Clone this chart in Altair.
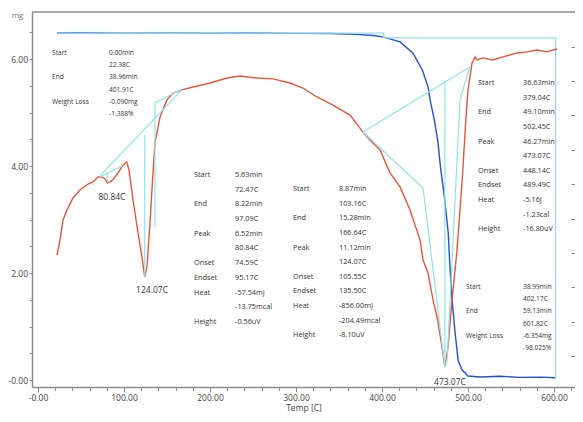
import altair as alt
import pandas as pd

# ---------------- data ----------------
# TG curve (mg) against temperature (C)
tga_temp = [22.0, 50, 100, 150, 200, 250, 300, 340, 370, 390, 402,
            421, 436, 447, 453.5, 456, 461, 465, 468, 473, 477, 479, 481.5,
            485, 488.5, 493, 500, 514, 537, 560, 585, 602]
tga_mg = [6.486, 6.49, 6.484, 6.488, 6.482, 6.486, 6.48, 6.476, 6.46, 6.44, 6.41,
          6.32, 6.11, 5.79, 5.48, 5.23, 4.85, 4.45, 3.98, 3.36, 2.75, 2.11, 1.50,
          0.88, 0.37, 0.19, 0.075, 0.056, 0.07, 0.05, 0.055, 0.042]

# DTA curve (uV) against temperature (C)
dta_temp = [22.1, 25.6, 29.1, 33.7, 40.7, 48.8, 58.1, 64.0, 69.8, 74.4, 78.0, 80.8,
            84.0, 88.0, 93.0, 97.5, 101.2, 103.2, 105.8, 110.5, 116.3, 120.9, 124.1,
            126.7, 130.2, 133.7, 136.0, 141.9, 150.0, 157.0, 167.4, 180.2, 200.0,
            219.8, 234.9, 254.7, 273.3, 293.0, 308.1, 324.4, 343.0, 362.8, 377.9,
            386.0, 397.7, 409.3, 420.9, 432.6, 444.2, 447.7, 453.5, 459.3, 464.0,
            469.8, 473.1, 476.7, 481.4, 487.2, 493.0, 497.7, 500.0, 504.7, 508.1,
            510.5, 517.4, 529.1, 540.7, 557.0, 568.6, 580.2, 591.9, 598.8, 603.5]
dta_uv = [-10.12, -9.24, -8.08, -7.50, -6.80, -6.34, -5.99, -5.87, -5.58, -5.58, -5.70, -5.93,
          -5.85, -5.70, -5.35, -5.00, -4.77, -4.71, -5.17, -6.92, -8.84, -10.23, -11.40,
          -10.81, -8.26, -5.35, -3.60, -2.09, -1.10, -0.70, -0.52, -0.35, -0.12,
          0.17, 0.29, 0.17, 0.12, -0.12, -0.41, -0.93, -1.40, -1.98, -2.97,
          -3.43, -4.01, -5.35, -6.16, -7.50, -9.24, -10.41, -11.16, -12.73, -13.72,
          -15.47, -16.63, -15.47, -12.73, -9.83, -5.93, -2.09, -0.52, 1.05, 1.40,
          1.22, 1.34, 1.22, 1.40, 1.63, 1.69, 1.80, 1.69, 1.80, 1.86]

# peak analysis guide lines (DTA scale)
guide_seg = ["L1", "L1", "P1b", "P1b", "P1v", "P1v", "P2v", "P2v", "P2v2", "P2v2",
             "P2s", "P2s", "P3b", "P3b", "P3on", "P3on", "P3on", "P3v", "P3v",
             "P3end", "P3end", "P3end"]
guide_temp = [72.1, 167.4, 72.1, 97.7, 80.8, 80.8, 124.1, 124.1, 136.0, 136.0,
              136.0, 167.4, 377.9, 500.0, 377.9, 447.7, 473.1, 473.1, 473.1,
              502.3, 490.7, 475.6]
guide_uv = [-5.52, -0.52, -5.58, -4.94, -5.40, -5.93, -3.14, -11.40, -1.28, -8.5,
            -1.28, -0.47, -2.97, 0.76, -2.97, -6.22, -16.63, -0.06, -16.63,
            0.87, -1.10, -16.34]

# weight-loss step lines (TG scale)
step_temp = [22.4, 401.9, 401.9, 601.8, 601.8]
step_mg = [6.486, 6.486, 6.396, 6.396, 0.042]

# result tables
tg1_labels = ["Start", "", "End", "", "Weight Loss", ""]
tg1_values = ["0.00min", "22.38C", "38.96min", "401.91C", "-0.090mg", "-1.388%"]
pk_labels = ["Start", "", "End", "", "Peak", "", "Onset", "Endset", "Heat", "", "Height"]
pk1_values = ["5.63min", "72.47C", "8.22min", "97.09C", "6.52min", "80.84C",
              "74.59C", "95.17C", "-57.54mJ", "-13.75mcal", "-0.56uV"]
pk2_values = ["8.87min", "103.16C", "15.28min", "166.64C", "11.12min", "124.07C",
              "105.55C", "135.50C", "-856.00mJ", "-204.49mcal", "-8.10uV"]
pk3_values = ["36.63min", "379.04C", "49.10min", "502.45C", "46.27min", "473.07C",
              "448.14C", "489.49C", "-5.16J", "-1.23cal", "-16.80uV"]
tg2_labels = ["Start", "", "End", "", "Weight Loss", ""]
tg2_values = ["38.99min", "402.17C", "59.13min", "601.82C", "-6.354mg", "-98.025%"]

peak_names = ["80.84C", "124.07C", "473.07C"]

# ---------------- layout (anchors in data units) ----------------
# (labels, values, label temp, value temp, first row mg, row step mg, group)
blocks = [
    (tg1_labels, tg1_values, 16.3, 82.6, 6.112, 0.228, "small"),
    (pk_labels, pk1_values, 181.4, 229.1, 3.832, 0.2745, "big"),
    (pk_labels, pk2_values, 296.5, 350.0, 3.570, 0.2735, "big"),
    (pk_labels, pk3_values, 511.6, 564.0, 5.551, 0.2735, "big"),
    (tg2_labels, tg2_values, 497.7, 564.0, 1.738, 0.228, "small"),
]
peak_pos_temp = [86.0, 132.6, 479.0]
peak_pos_mg = [3.42, 1.68, -0.04]

rows = []
for labs, vals, tl, tv, top, step, grp in blocks:
    for i, (a, b) in enumerate(zip(labs, vals)):
        y = top - i * step
        if a:
            rows.append({"T": tl, "mg": y, "text": a, "grp": grp})
        rows.append({"T": tv, "mg": y, "text": b, "grp": grp})
text_df = pd.DataFrame(rows)
peak_df = pd.DataFrame({"T": peak_pos_temp, "mg": peak_pos_mg, "text": peak_names})

tga_df = pd.DataFrame({"T": tga_temp, "mg": tga_mg})
dta_df = pd.DataFrame({"T": dta_temp, "uv": dta_uv})
guide_df = pd.DataFrame({"T": guide_temp, "uv": guide_uv, "seg": guide_seg,
                         "i": list(range(len(guide_seg)))})
step_df = pd.DataFrame({"T": step_temp, "mg": step_mg, "i": list(range(len(step_temp)))})

W, H = 543, 375
X_MIN, X_MAX = -6.98, 624.4
MG_MAX = 6.879
MG_MIN = MG_MAX - H / 53.5
UV_MAX = 4.01
UV_MIN = UV_MAX - H / 17.2

FONT = "Open Sans"
AXIS_GRAY = "#8a8a8a"
LABEL_COL = "#444444"
RED = "#e8553a"
BLUE = "#2450d4"
CYAN = "#8fe3ec"

x_enc = alt.X(
    "T:Q",
    scale=alt.Scale(domain=[X_MIN, X_MAX], nice=False, zero=False),
    axis=alt.Axis(
        values=list(range(0, 621, 20)),
        labelExpr="datum.value % 100 == 0 ? (datum.value == 0 ? '-0.00' : format(datum.value, '.2f')) : ''",
        title="Temp  [C]",
        titleFont=FONT, titleFontSize=8.5, titleFontWeight="normal", titleColor=LABEL_COL,
        titlePadding=2,
        labelFont=FONT, labelFontSize=8.5, labelColor=LABEL_COL, labelOverlap=False,
        labelFlush=False, labelPadding=1,
        domainColor=AXIS_GRAY, domainWidth=1.5, tickColor=AXIS_GRAY, tickWidth=1,
        tickSize={"condition": {"test": "datum.value % 100 == 0", "value": 5}, "value": 3.5},
        grid=False,
    ),
)

y_mg = alt.Y(
    "mg:Q",
    scale=alt.Scale(domain=[MG_MIN, MG_MAX], nice=False, zero=False),
    axis=alt.Axis(
        values=[i * 0.5 for i in range(0, 14)],
        labelExpr="datum.value % 2 == 0 ? (datum.value == 0 ? '-0.00' : format(datum.value, '.2f')) : ''",
        title="mg", titleAngle=0, titleX=-15, titleY=5, titleAlign="center",
        titleBaseline="alphabetic", titleFont=FONT, titleFontSize=8,
        titleFontWeight="normal", titleColor="#777777",
        labelFont=FONT, labelFontSize=8.5, labelColor=LABEL_COL, labelOverlap=False,
        labelFlush=False, labelPadding=1.5,
        domainColor=AXIS_GRAY, domainWidth=1.5, tickColor=AXIS_GRAY, tickSize=3,
        grid=False,
    ),
)

y_uv = alt.Y(
    "uv:Q",
    scale=alt.Scale(domain=[UV_MIN, UV_MAX], nice=False, zero=False),
    axis=alt.Axis(
        orient="right", values=list(range(-16, 3, 2)), labels=False, domain=False,
        title=None, tickColor=AXIS_GRAY, tickWidth=1, offset=-4,
        tickSize={"condition": {"test": "datum.value % 10 == 0", "value": 5}, "value": 3.5},
        grid=False,
    ),
)

frame = alt.Chart(pd.DataFrame({"mg": [MG_MAX]})).mark_rule(
    color=AXIS_GRAY, strokeWidth=1.5).encode(y=y_mg)

tga_line = alt.Chart(tga_df).mark_line(color=BLUE, strokeWidth=1.4).encode(
    x=x_enc, y=y_mg)
step_line = alt.Chart(step_df).mark_line(color=CYAN, strokeWidth=1.3).encode(
    x=x_enc, y=y_mg, order="i:Q")

small_txt = alt.Chart(text_df[text_df.grp == "small"]).mark_text(
    align="left", baseline="middle", font=FONT, fontSize=6.6, color="#333333"
).encode(x=x_enc, y=y_mg, text="text:N")
big_txt = alt.Chart(text_df[text_df.grp == "big"]).mark_text(
    align="left", baseline="middle", font=FONT, fontSize=7.3, color="#333333"
).encode(x=x_enc, y=y_mg, text="text:N")
peak_txt = alt.Chart(peak_df).mark_text(
    align="center", baseline="middle", font=FONT, fontSize=8.5, color="#333333"
).encode(x=x_enc, y=y_mg, text="text:N")

left_layer = alt.layer(frame, tga_line, step_line, small_txt, big_txt, peak_txt)

dta_line = alt.Chart(dta_df).mark_line(color=RED, strokeWidth=1.4).encode(
    x=x_enc, y=y_uv)
guide_line = alt.Chart(guide_df).mark_line(color=CYAN, strokeWidth=1.2).encode(
    x=x_enc, y=y_uv, detail="seg:N", order="i:Q")

right_layer = alt.layer(dta_line, guide_line)

chart = alt.layer(left_layer, right_layer).resolve_scale(y="independent").properties(
    width=W, height=H,
    autosize=alt.AutoSizeParams(type="none"),
    padding={"left": 24, "top": 4, "right": 0, "bottom": 27},
    background="white",
).configure_view(stroke=None)

chart.save("out.html", embed_options={"renderer": "svg", "actions": False})
